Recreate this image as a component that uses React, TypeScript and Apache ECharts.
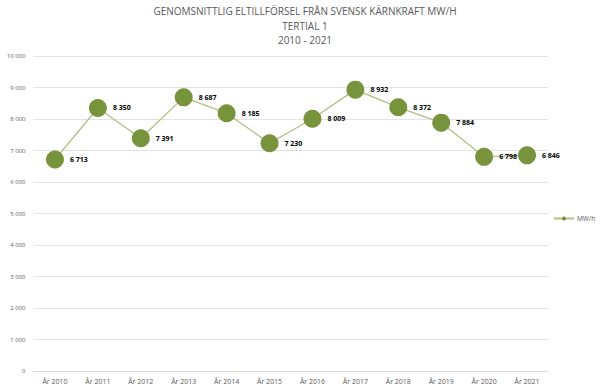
import React, { useEffect, useRef } from "react";
import * as echarts from "echarts";

const categories = ["År 2010", "År 2011", "År 2012", "År 2013", "År 2014", "År 2015", "År 2016", "År 2017", "År 2018", "År 2019", "År 2020", "År 2021"];
const values = [6713, 8350, 7391, 8687, 8185, 7230, 8009, 8932, 8372, 7884, 6798, 6846];
const titleLines = ["GENOMSNITTLIG ELTILLFÖRSEL FRÅN SVENSK KÄRNKRAFT MW/H", "TERTIAL 1", "2010 - 2021"];
const seriesName = "MW/h";

const fmt = (v: number) => {
  const s = Math.round(v).toString();
  return s.replace(/\B(?=(\d{3})+(?!\d))/g, " ");
};

export default function App() {
  const ref = useRef<HTMLDivElement>(null);
  useEffect(() => {
    if (!ref.current) return;
    const chart = echarts.init(ref.current, null, { renderer: "svg" });
    const font = "'Open Sans', 'Liberation Sans', sans-serif";
    chart.setOption({
      animation: false,
      backgroundColor: "#ffffff",
      textStyle: { fontFamily: font },
      title: {
        text: titleLines.join("\n"),
        left: 300,
        textAlign: "center",
        top: -1,
        textStyle: { fontSize: 10, fontWeight: "normal", color: "#595959", lineHeight: 14.5, fontFamily: font },
      },
      legend: {
        data: [seriesName],
        orient: "vertical",
        left: 548,
        top: 210,
        itemWidth: 20,
        itemHeight: 5,
        itemGap: 4,
        textStyle: { fontSize: 6.5, color: "#595959", padding: [0, 0, 0, -2] },
      },
      grid: { left: 33.5, right: 51.5, top: 56, bottom: 21, containLabel: false },
      xAxis: {
        type: "category",
        data: categories,
        boundaryGap: true,
        axisLine: { lineStyle: { color: "#d9d9d9" } },
        axisTick: { show: false },
        axisLabel: { fontSize: 7, color: "#595959", margin: 7 },
      },
      yAxis: {
        type: "value",
        min: 0,
        max: 10000,
        interval: 1000,
        axisLine: { show: false },
        axisTick: { show: false },
        splitLine: { lineStyle: { color: "#e3e3e3" } },
        axisLabel: { fontSize: 6, color: "#595959", margin: 8, formatter: (v: number) => fmt(v) },
      },
      series: [
        {
          name: seriesName,
          type: "line",
          data: values,
          symbol: "circle",
          symbolSize: 18,
          itemStyle: { color: "#77933c" },
          lineStyle: { color: "#b3bd86", width: 1.3 },
          label: {
            show: true,
            position: "right",
            distance: 6,
            fontSize: 7,
            fontWeight: "bold",
            color: "#000000",
            formatter: (p: any) => fmt(p.value),
          },
        },
      ],
    });
    return () => chart.dispose();
  }, []);
  return <div ref={ref} style={{ width: 600, height: 392, position: "absolute", left: 0, top: 0 }} />;
}
